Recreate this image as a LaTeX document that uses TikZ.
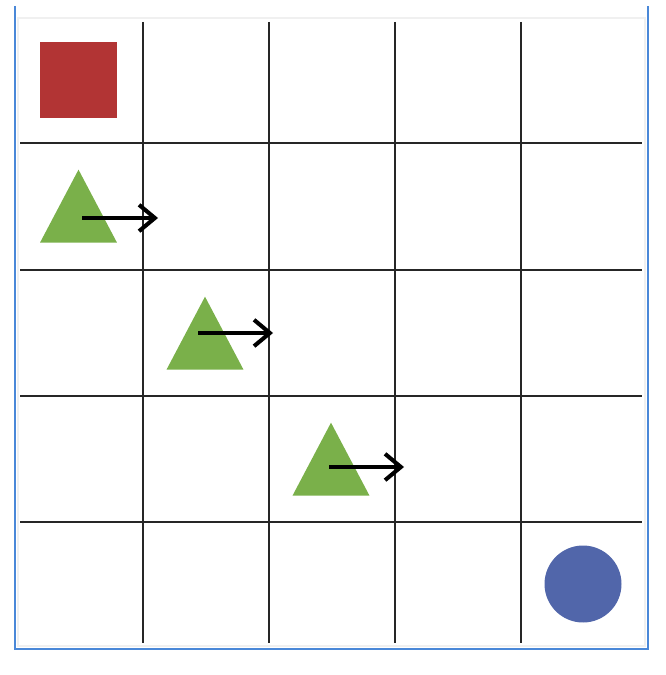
\documentclass[tikz,border=0pt]{standalone}
\usetikzlibrary{shapes.geometric,arrows.meta}
\definecolor{goalred}{HTML}{B23434}
\definecolor{agentgreen}{HTML}{7AB04A}
\definecolor{startblue}{HTML}{5166AA}
\definecolor{framblue}{HTML}{4A88D8}
\begin{document}
\begin{tikzpicture}[x=0.02cm, y=-0.02cm,
        gridline/.style = {line width=1.6pt, black!85},
        goal/.style = {fill=goalred, minimum size=1.54cm, inner sep=0pt},
        agent/.style = {isosceles triangle, isosceles triangle stretches, shape border rotate=90,
                        fill=agentgreen, minimum width=1.54cm, minimum height=1.46cm, inner sep=0pt, anchor=south},
        start/.style = {circle, fill=startblue, minimum size=1.54cm, inner sep=0pt},
        move/.style = {line width=2.3pt, -{Straight Barb[length=9pt, width=15pt]}}]
        \useasboundingbox (0,0) rectangle (665,675);
        % frame
        \draw[line width=1.5pt, gray!12] (18,18) rectangle (645,646);
        \draw[line width=1pt, framblue] (15,6) -- (15,649) -- (648,649) -- (648,6);
        % grid
        \foreach \vx/\hy in {143/143, 269/270, 395/396, 521/522} {
            \draw[gridline] (\vx,22) -- (\vx,643);
            \draw[gridline] (20,\hy) -- (642,\hy);
        }
        % cells
        \node[goal] (g) at (78.5,80) {};
        \node[start] (s) at (583,584) {};
        \node[agent] (t1) at (78.5,243) {};
        \node[agent] (t2) at (205,370) {};
        \node[agent] (t3) at (331,496) {};
        % moves
        \coordinate (a1) at (82,218);
        \coordinate (b1) at (158,218);
        \coordinate (a2) at (198,333);
        \coordinate (b2) at (273,333);
        \coordinate (a3) at (329,467);
        \coordinate (b3) at (404,467);
        \draw[move] (a1) -- (b1);
        \draw[move] (a2) -- (b2);
        \draw[move] (a3) -- (b3);
    \end{tikzpicture}
\end{document}
